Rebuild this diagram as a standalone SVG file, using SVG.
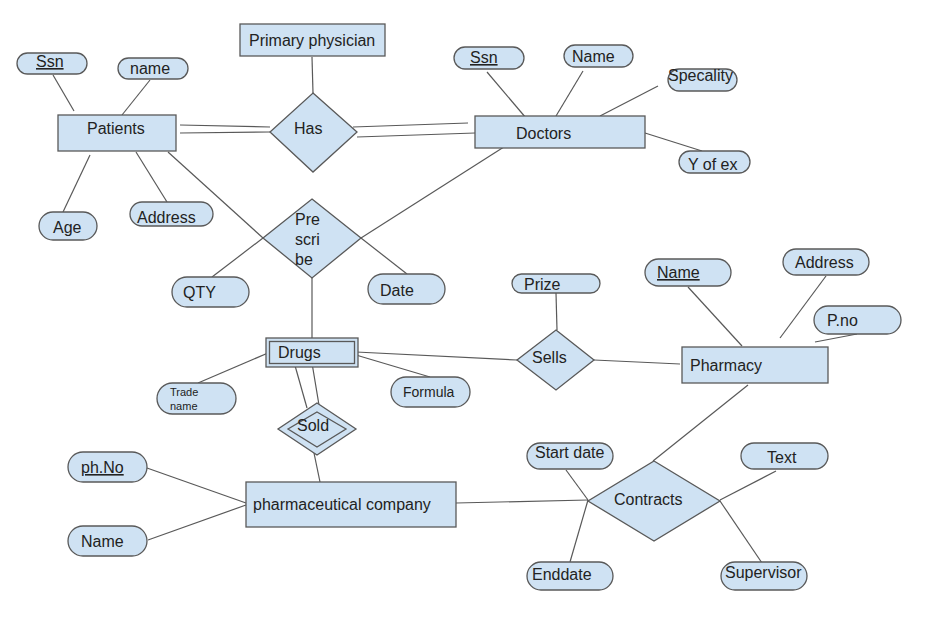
<svg xmlns="http://www.w3.org/2000/svg" width="949" height="617" viewBox="0 0 949 617">
<style>
.n{fill:#cfe2f3;stroke:#595959;stroke-width:1.3}
.c{stroke:#595959;stroke-width:1.2;fill:none}
text{font-family:"Liberation Sans",Arial,sans-serif;font-size:16px;fill:#222}
.u{text-decoration:underline}
.s{font-size:11px}
</style>
<rect width="949" height="617" fill="#fff"/>
<g id="connectors">
<line class="c" x1="53" y1="75" x2="74" y2="111"/>
<line class="c" x1="150" y1="80" x2="122" y2="115"/>
<line class="c" x1="90" y1="155" x2="63" y2="212"/>
<line class="c" x1="136" y1="152" x2="167" y2="202"/>
<line class="c" x1="180" y1="125" x2="270" y2="127"/>
<line class="c" x1="180" y1="133" x2="270" y2="132"/>
<line class="c" x1="353" y1="127" x2="468" y2="123"/>
<line class="c" x1="357" y1="137" x2="475" y2="133"/>
<line class="c" x1="312" y1="57" x2="313" y2="93"/>
<line class="c" x1="168" y1="152" x2="263" y2="238"/>
<line class="c" x1="361" y1="238" x2="407" y2="274"/>
<line class="c" x1="212" y1="277" x2="263" y2="238"/>
<line class="c" x1="507" y1="145" x2="361" y2="238"/>
<line class="c" x1="312" y1="278" x2="312" y2="338"/>
<line class="c" x1="487" y1="72" x2="526" y2="118"/>
<line class="c" x1="583" y1="71" x2="556" y2="116"/>
<line class="c" x1="658" y1="86" x2="600" y2="116"/>
<line class="c" x1="645" y1="133" x2="702" y2="151"/>
<line class="c" x1="556" y1="293" x2="557" y2="330"/>
<line class="c" x1="356" y1="352" x2="517" y2="360"/>
<line class="c" x1="594" y1="360" x2="680" y2="364"/>
<line class="c" x1="688" y1="287" x2="742" y2="346"/>
<line class="c" x1="826" y1="276" x2="780" y2="338"/>
<line class="c" x1="857" y1="334" x2="815" y2="342"/>
<line class="c" x1="748" y1="385" x2="653" y2="461"/>
<line class="c" x1="566" y1="470" x2="588" y2="500"/>
<line class="c" x1="570" y1="562" x2="588" y2="500"/>
<line class="c" x1="776" y1="471" x2="720" y2="500"/>
<line class="c" x1="720" y1="501" x2="762" y2="563"/>
<line class="c" x1="456" y1="503" x2="588" y2="500"/>
<line class="c" x1="268" y1="353" x2="198" y2="383"/>
<line class="c" x1="356" y1="355" x2="430" y2="377"/>
<line class="c" x1="294" y1="362" x2="307" y2="408"/>
<line class="c" x1="312" y1="363" x2="319" y2="405"/>
<line class="c" x1="314" y1="453" x2="320" y2="482"/>
<line class="c" x1="147" y1="468" x2="246" y2="503"/>
<line class="c" x1="148" y1="540" x2="246" y2="505"/>
</g>
<g id="primary-physician"><rect class="n" x="240" y="24" width="145" height="32"/><text x="249" y="46">Primary physician</text></g>
<g id="patients-ssn"><rect class="n" x="17" y="53" width="70" height="21" rx="10.5"/><text class="u" x="36" y="67">Ssn</text></g>
<g id="patients-name"><rect class="n" x="118" y="58" width="70" height="21" rx="10.5"/><text x="130" y="74">name</text></g>
<g id="patients"><rect class="n" x="58" y="115" width="118" height="36"/><text x="87" y="134">Patients</text></g>
<g id="has"><polygon class="n" points="313,93 357,132 313,172 270,132"/><text x="294" y="134">Has</text></g>
<g id="age"><rect class="n" x="39" y="212" width="58" height="28" rx="14"/><text x="53" y="233">Age</text></g>
<g id="patients-address"><rect class="n" x="130" y="202" width="83" height="24" rx="12"/><text x="137" y="223">Address</text></g>
<g id="prescribe"><polygon class="n" points="312,199 361,238 312,278 263,238"/><text x="295" y="225">Pre</text><text x="295" y="245">scri</text><text x="295" y="265">be</text></g>
<g id="qty"><rect class="n" x="172" y="277" width="77" height="30" rx="15"/><text x="183" y="298">QTY</text></g>
<g id="date"><rect class="n" x="368" y="274" width="77" height="30" rx="15"/><text x="380" y="296">Date</text></g>
<g id="doctors-ssn"><rect class="n" x="454" y="47" width="70" height="22" rx="11"/><text class="u" x="470" y="63">Ssn</text></g>
<g id="doctors-name"><rect class="n" x="564" y="45" width="69" height="22" rx="11"/><text x="572" y="62">Name</text></g>
<g id="specality"><rect class="n" x="668" y="69" width="69" height="22" rx="11"/><text x="668" y="81">Specality</text></g>
<g id="doctors"><rect class="n" x="475" y="116" width="170" height="32"/><text x="516" y="139">Doctors</text></g>
<g id="y-of-ex"><rect class="n" x="679" y="151" width="71" height="22" rx="11"/><text x="688" y="170">Y of ex</text></g>
<g id="prize"><rect class="n" x="512" y="274" width="88" height="19" rx="9.5"/><text x="524" y="290">Prize</text></g>
<g id="pharmacy-name"><rect class="n" x="645" y="259" width="86" height="27" rx="13.5"/><text class="u" x="657" y="278">Name</text></g>
<g id="pharmacy-address"><rect class="n" x="783" y="249" width="86" height="26" rx="13"/><text x="795" y="268">Address</text></g>
<g id="pno"><rect class="n" x="814" y="306" width="87" height="28" rx="14"/><text x="827" y="326">P.no</text></g>
<g id="sells"><polygon class="n" points="556,330 594,360 556,390 517,360"/><text x="532" y="363">Sells</text></g>
<g id="pharmacy"><rect class="n" x="682" y="347" width="146" height="36"/><text x="690" y="371">Pharmacy</text></g>
<g id="drugs"><rect class="n" x="266" y="338" width="92" height="29"/><rect class="n" x="269.5" y="341.5" width="85" height="22"/><text x="278" y="358">Drugs</text></g>
<g id="trade-name"><rect class="n" x="157" y="383" width="79" height="31" rx="15.5"/><text class="s" x="170" y="396">Trade</text><text class="s" x="170" y="410">name</text></g>
<g id="formula"><rect class="n" x="391" y="377" width="79" height="30" rx="15"/><text x="403" y="397" style="font-size:14px">Formula</text></g>
<g id="sold"><polygon class="n" points="317,403 356,429 317,455 278,429"/><polygon class="n" points="317,412 346,429 317,447 288,429"/><text x="297" y="431">Sold</text></g>
<g id="ph-no"><rect class="n" x="68" y="452" width="79" height="30" rx="15"/><text class="u" x="81" y="473">ph.No</text></g>
<g id="company-name"><rect class="n" x="68" y="526" width="79" height="30" rx="15"/><text x="81" y="547">Name</text></g>
<g id="pharmaceutical-company"><rect class="n" x="246" y="482" width="210" height="45"/><text x="253" y="510">pharmaceutical company</text></g>
<g id="contracts"><polygon class="n" points="654,461 720,501 654,541 588,501"/><text x="614" y="505">Contracts</text></g>
<g id="start-date"><rect class="n" x="527" y="443" width="86" height="26" rx="13"/><text x="535" y="458">Start date</text></g>
<g id="text"><rect class="n" x="741" y="443" width="87" height="26" rx="13"/><text x="767" y="463">Text</text></g>
<g id="enddate"><rect class="n" x="527" y="562" width="86" height="28" rx="14"/><text x="532" y="580">Enddate</text></g>
<g id="supervisor"><rect class="n" x="721" y="562" width="86" height="28" rx="14"/><text x="725" y="578">Supervisor</text></g>
</svg>
